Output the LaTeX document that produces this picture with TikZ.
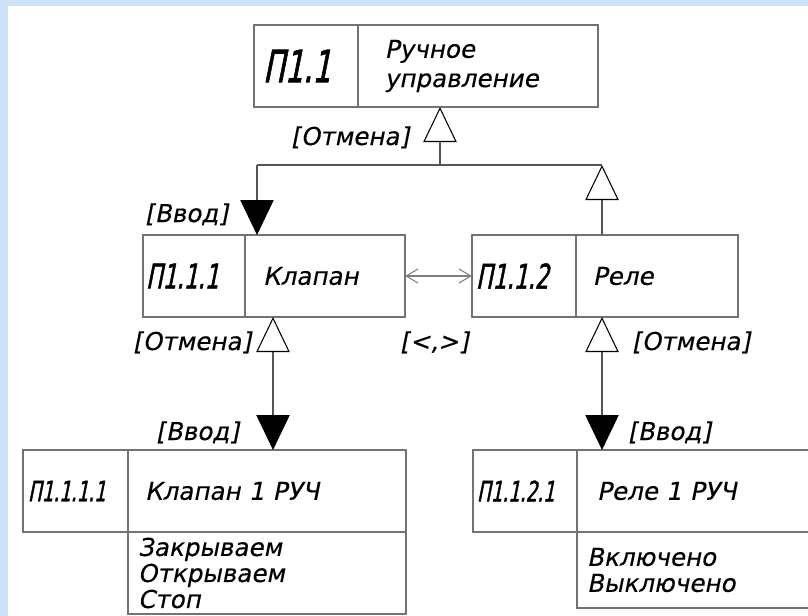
\documentclass[tikz,border=0pt]{standalone}
\usepackage{fontspec}
\usepackage{tikz}
\usetikzlibrary{arrows.meta}
\newfontfamily\gost{DejaVu Sans}[FakeSlant=0.2,FakeBold=0.3]
\newfontfamily\gostid{DejaVu Sans}[FakeSlant=0.2,FakeStretch=0.65,FakeBold=1.4]
\definecolor{bgblue}{rgb}{0.80, 0.89, 0.97}
\definecolor{boxgray}{rgb}{0.45, 0.45, 0.45}
\definecolor{linegray}{rgb}{0.33, 0.33, 0.33}
\tikzstyle{cell}=[draw=boxgray,line width=1.4pt,anchor=north west,outer sep=0pt,inner ysep=0pt,minimum height=2.46cm,align=left,text=black]
\tikzstyle{idcell}=[cell,inner xsep=0.12cm,text width=2.88cm]
\tikzstyle{namecell}=[cell,inner xsep=0.54cm,font=\gost\fontsize{21}{22.5}\selectfont]
\tikzstyle{listcell}=[cell,inner xsep=0.3cm,font=\gost\fontsize{21}{22.2}\selectfont]
\tikzstyle{tag}=[anchor=base west,inner sep=0pt,font=\gost\fontsize{21}{22}\selectfont]
\tikzstyle{link}=[draw=linegray,line width=0.9pt]
\tikzstyle{opentri}=[-{Triangle[open,length=1.05cm,width=1cm,color=black]}]
\tikzstyle{filltri}=[-{Triangle[length=1.05cm,width=1cm,color=black]}]
\tikzstyle{bothtri}=[{Triangle[length=1.05cm,width=1cm,color=black]}-{Triangle[open,length=1.05cm,width=1cm,color=black]}]

\begin{document}
\begin{tikzpicture}[x=0.03cm,y=-0.03cm]
\useasboundingbox (0,0) rectangle (808,616);
\fill[bgblue] (0,0) rectangle (808,616);
\fill[white] (8,6) rectangle (808,616);

% top
\node[idcell,inner xsep=0.27cm,text width=2.58cm,font=\gostid\fontsize{38}{40}\selectfont] (p11id) at (254,25) {П1.1};
\node[namecell,inner xsep=0.8cm,text width=5.6cm,font=\gost\fontsize{21}{25}\selectfont] (p11name) at (p11id.north east) {Ручное\\управление};

% middle row
\node[idcell,inner xsep=0.09cm,text width=2.88cm,font=\gostid\fontsize{29}{31}\selectfont] (p111id) at (143,235) {П1.1.1};
\node[namecell,text width=3.72cm] (p111name) at (p111id.north east) {Клапан};
\node[idcell,font=\gostid\fontsize{29}{31}\selectfont] (p112id) at (472,235) {П1.1.2};
\node[namecell,inner xsep=0.5cm,text width=3.86cm] (p112name) at (p112id.north east) {Реле};

% bottom row
\node[idcell,inner xsep=0.15cm,text width=2.85cm,font=\gostid\fontsize{24}{26}\selectfont] (p1111id) at (23,450) {П1.1.1.1};
\node[namecell,inner xsep=0.51cm,text width=7.32cm] (p1111name) at (p1111id.north east) {Клапан 1 РУЧ};
\node[listcell,text width=7.74cm] (p1111list) at (p1111name.south west) {Закрываем\\Открываем\\Стоп};
\node[idcell,font=\gostid\fontsize{24}{26}\selectfont] (p1121id) at (473,450) {П1.1.2.1};
\node[namecell,inner xsep=0.6cm,text width=5.85cm] (p1121name) at (p1121id.north east) {Реле 1 РУЧ};
\node[listcell,text width=6.45cm,minimum height=2.28cm] (p1121list) at (p1121name.south west) {Включено\\Выключено};

\coordinate (jl) at (257,165);
\coordinate (jm) at (440,165);
\coordinate (jr) at (602,165);
\coordinate (dl) at (273,384);
\coordinate (dr) at (602,384);

\draw[link,opentri] (jm) -- (jm |- p11name.south);
\draw[link] (jl) -- (jr);
\draw[link,filltri] (jl) -- (jl |- p111name.north);
\draw[link,opentri] (jr |- p112name.north) -- (jr);
\draw[link,bothtri] (dl |- p1111name.north) -- (dl |- p111name.south);
\draw[link,bothtri] (dr |- p1121name.north) -- (dr |- p112name.south);
\draw[link,draw=gray,{Straight Barb[length=0.36cm,width=0.42cm]}-{Straight Barb[length=0.36cm,width=0.42cm]}] (p111name.east) -- (p112id.west);

% labels
\node[tag] (t1) at (291,145) {[Отмена]};
\node[tag] (t2) at (145,222) {[Ввод]};
\node[tag] (t3) at (133,350) {[Отмена]};
\node[tag] (t4) at (400,350) {[<,>]};
\node[tag] (t5) at (632,350) {[Отмена]};
\node[tag] (t6) at (156,440) {[Ввод]};
\node[tag] (t7) at (628,440) {[Ввод]};

\end{tikzpicture}
\end{document}
